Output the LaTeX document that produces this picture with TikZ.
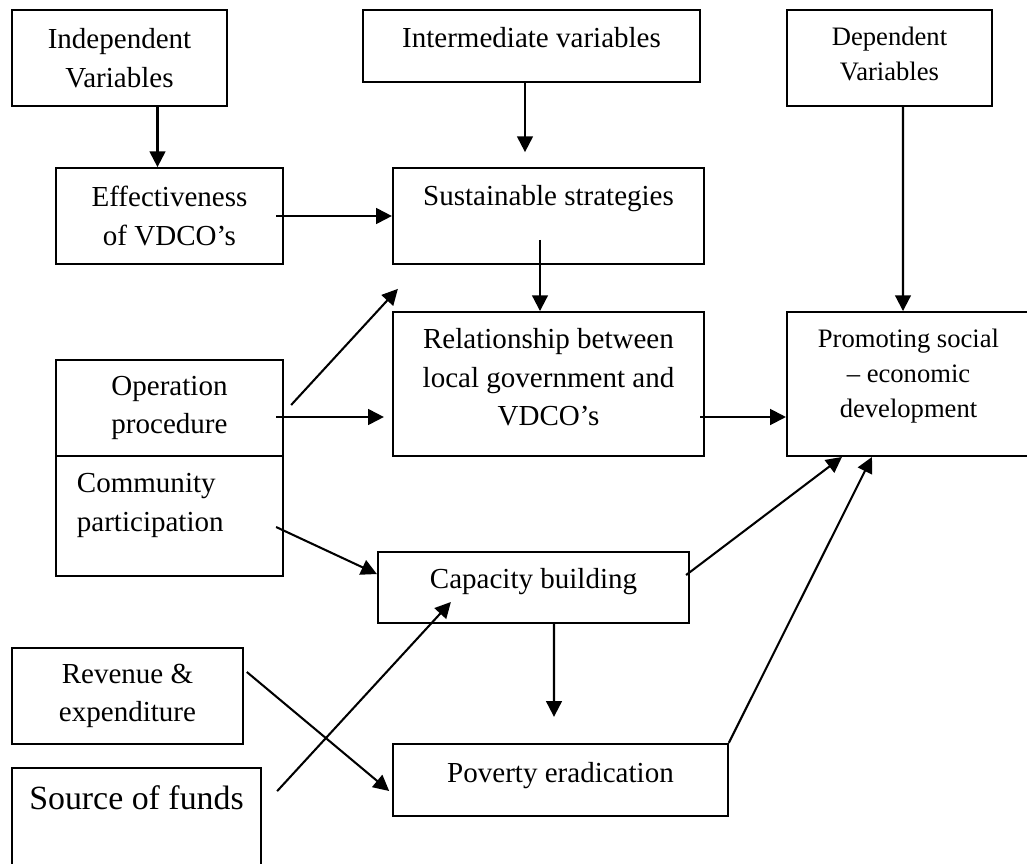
\documentclass[tikz,border=0pt]{standalone}
\usepackage{fontspec}
\setmainfont{Liberation Serif}
\usetikzlibrary{arrows.meta,calc}

\begin{document}
\begin{tikzpicture}[x=0.01452cm, y=-0.01452cm,
  box/.style={draw, line width=0.85pt, inner sep=0pt, align=center, font=\fontsize{12}{16}\selectfont},
  small/.style={font=\fontsize{11}{14.5}\selectfont},
  arr/.style={line width=0.85pt, -{Triangle[length=6.5pt,width=6.5pt]}}]
\useasboundingbox (0,0) rectangle (1027,863);
\clip (0,0) rectangle (1027,863);
% top row
\node[box, minimum width=3.12cm, minimum height=1.39cm] (indep) at (119.5,58) {Independent\\Variables};
\node[box, minimum width=4.89cm, minimum height=1.05cm, text depth=7.4pt] (inter) at (531.5,46) {Intermediate variables};
\node[box, small, minimum width=2.98cm, minimum height=1.39cm, text depth=3.8pt] (dep) at (889.5,58) {Dependent\\Variables};
% middle
\node[box, minimum width=3.30cm, minimum height=1.39cm] (eff) at (169.5,216) {Effectiveness\\of VDCO’s};
\node[box, minimum width=4.52cm, minimum height=1.39cm, text depth=17.4pt] (sust) at (548.5,216) {Sustainable strategies};
\node[box, minimum width=4.52cm, minimum height=2.09cm, text depth=5.8pt] (rel) at (548.5,384) {Relationship between\\local government and\\VDCO’s};
\node[box, small, minimum width=3.53cm, minimum height=2.09cm, text depth=9pt] (prom) at (908.5,384) {Promoting social\\– economic\\development};
\node[box, minimum width=3.30cm, minimum height=1.39cm] (oper) at (169.5,408) {Operation\\procedure};
\node[box, align=left, text width=2.69cm, minimum width=3.30cm, minimum height=1.74cm, text depth=27.3pt] (comm) at (169.5,516) {Community\\participation};
\node[box, minimum width=4.52cm, minimum height=1.03cm, text depth=7.5pt] (cap) at (533.5,587.5) {Capacity building};
% bottom
\node[box, minimum width=3.35cm, minimum height=1.39cm] (rev) at (127.5,696) {Revenue \&\\expenditure};
\node[box, font=\fontsize{14}{18}\selectfont, minimum width=3.62cm, minimum height=1.68cm, text depth=23.5pt] (src) at (136.5,826) {Source of funds};
\node[box, minimum width=4.86cm, minimum height=1.05cm, text depth=6.6pt] (pov) at (560.5,780) {Poverty eradication};

% connectors
\draw[arr] ($(indep.south)+(38,0)$) -- ($(eff.north)+(-12,0)$);
\draw[arr] ($(inter.south)+(-6.5,0)$) -- ($(sust.north)+(-23.5,-15)$);
\draw[arr] ($(dep.south)+(13.5,0)$) -- ($(prom.north)+(-5.5,0)$);
\draw[arr] ($(eff.east)+(-8,0)$) -- (sust.west);
\draw[arr] ($(sust.south)+(-8.5,-25)$) -- ($(rel.north)+(-8.5,0)$);
\draw[arr] ($(rel.east)+(-5,33)$) -- ($(prom.west)+(0,33)$);
\draw[arr] ($(oper.east)+(7,-3)$) -- ($(sust.south west)+(6,24)$);
\draw[arr] ($(oper.east)+(-8,9)$) -- ($(rel.west)+(-8,33)$);
\draw[arr] ($(comm.east)+(-8,11)$) -- ($(cap.north west)+(0,23)$);
\draw[arr] ($(cap.east)+(-4,-12.5)$) -- ($(prom.south west)+(56,0)$);
\draw[arr] (pov.north east) -- ($(prom.south west)+(86,0)$);
\draw[arr] ($(cap.south)+(20.5,0)$) -- ($(pov.north)+(-6.5,-26)$);
\draw[arr] ($(rev.east)+(3,-24)$) -- ($(pov.west)+(-3,11)$);
\draw[arr] ($(src.north east)+(15,24)$) -- ($(cap.south west)+(74,-22)$);
\end{tikzpicture}
\end{document}
